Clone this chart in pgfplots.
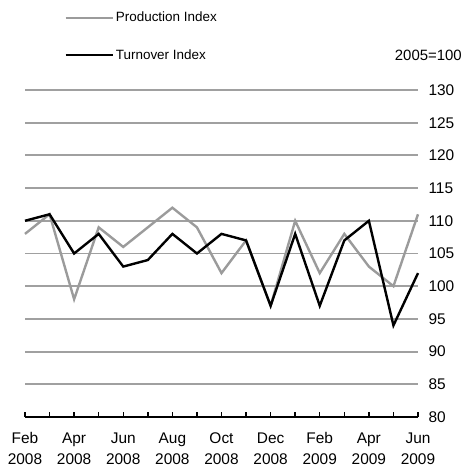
\documentclass[border=0pt]{standalone}
\usepackage{pgfplots}
\pgfplotsset{compat=1.18}
\usepackage{fontspec}
\setmainfont{Liberation Sans}
\definecolor{gridgray}{RGB}{160,160,160}
\definecolor{prodgray}{RGB}{155,155,155}
\begin{document}
\begin{tikzpicture}
\useasboundingbox (0,0) rectangle (464bp,467bp);
\begin{axis}[
  at={(25bp,50bp)}, anchor=south west,
  scale only axis, width=393bp, height=327bp,
  xmin=0, xmax=16, ymin=80, ymax=130,
  axis y line*=right, axis x line*=bottom,
  y axis line style={draw=none},
  x axis line style={black, line width=2pt, -},
  ytick={80,85,...,130},
  ymajorgrids, grid style={gridgray, line width=2pt},
  ytick style={draw=none},
  xtick={0,...,16},
  xticklabels={Feb\\2008,,Apr\\2008,,Jun\\2008,,Aug\\2008,,Oct\\2008,,Dec\\2008,,Feb\\2009,,Apr\\2009,,Jun\\2009},
  x tick label style={align=center, font=\fontsize{15.5}{21}\selectfont, yshift=-12bp},
  y tick label style={font=\fontsize{15.5}{18}\selectfont, xshift=7bp},
  /pgf/number format/assume math mode=true,
  xtick align=inside, major tick length=5bp,
  xtick style={black, line width=1.4pt},
  legend style={at={(axis description cs:0.1,1.245)}, anchor=north west, draw=none, fill=none,
    row sep=22bp, font=\fontsize{13.5}{16}\selectfont, inner sep=0pt},
  legend cell align=left,
  legend image code/.code={\draw[#1] (0bp,0bp) -- (47bp,0bp);},
  clip=false,
]
\addplot[prodgray, line width=2.4pt] coordinates {
(0,108)(1,111)(2,98)(3,109)(4,106)(5,109)(6,112)(7,109)(8,102)(9,107)(10,97)(11,110)(12,102)(13,108)(14,103)(15,100)(16,111)};
\addlegendentry{Production Index}
\addplot[black, line width=2.4pt] coordinates {
(0,110)(1,111)(2,105)(3,108)(4,103)(5,104)(6,108)(7,105)(8,108)(9,107)(10,97)(11,108)(12,97)(13,107)(14,110)(15,94)(16,102)};
\addlegendentry{Turnover Index}
\node[anchor=east, font=\fontsize{15}{18}\selectfont, inner sep=0pt] at (axis description cs:1,1.0) [yshift=35bp, xshift=44bp] {2005=100};
\end{axis}
\end{tikzpicture}
\end{document}
